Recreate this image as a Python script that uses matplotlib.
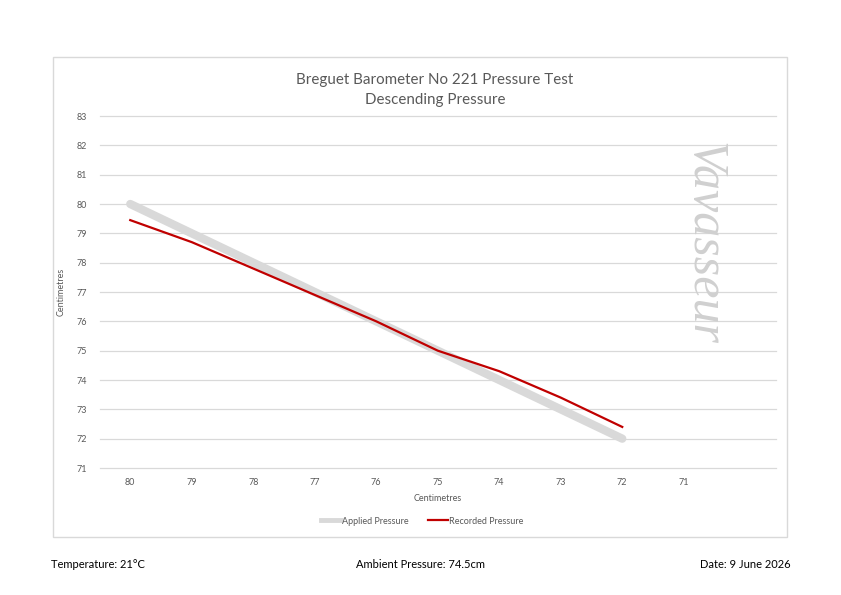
import numpy as np
import matplotlib.pyplot as plt
from matplotlib.patches import Rectangle
from matplotlib.lines import Line2D

plt.rcParams['font.family'] = ['Lato', 'DejaVu Sans']

# data
categories = ['80', '79', '78', '77', '76', '75', '74', '73', '72', '71']
applied = [80, 79, 78, 77, 76, 75, 74, 73, 72]
recorded = [79.45, 78.7, 77.8, 76.9, 76.0, 75.0, 74.3, 73.4, 72.4]

grey = '#d9d9d9'
red = '#c00000'
tick_col = '#595959'

fig = plt.figure(figsize=(8.41, 5.95), dpi=100)

# chart frame
fig.patches.append(Rectangle((53/841, 1-537/595), 734/841, 480/595,
                             transform=fig.transFigure, fill=False,
                             edgecolor=grey, linewidth=1))

ax = fig.add_axes([99.5/841, 1-468/595, 676.5/841, 352/595])
x = np.arange(len(categories))
ax.plot(x[:len(applied)], applied, color=grey, linewidth=6,
        solid_capstyle='round', label='Applied Pressure')
ax.plot(x[:len(recorded)], recorded, color=red, linewidth=1.6,
        label='Recorded Pressure')

ax.set_xlim(-0.5, 10.5)
ax.set_ylim(71, 83)
ax.set_yticks(range(71, 84))
ax.set_xticks(x)
ax.set_xticklabels(categories)
ax.tick_params(length=0, labelsize=6.5, labelcolor=tick_col, pad=7)
ax.tick_params(axis='y', pad=9)
ax.grid(True, axis='y', color=grey, linewidth=0.9)
for gl in ax.get_ygridlines():
    gl.set_clip_on(False)
for s in ax.spines.values():
    s.set_visible(False)
ax.set_axisbelow(True)

ax.set_xlabel('Centimetres', fontsize=6.5, color=tick_col, labelpad=5)
ax.set_ylabel('Centimetres', fontsize=6.5, color=tick_col, labelpad=8)

fig.text(435/841, 1-80/595, 'Breguet Barometer No 221 Pressure Test',
         ha='center', va='center', fontsize=10.9, color=tick_col)
fig.text(435/841, 1-100/595, 'Descending Pressure',
         ha='center', va='center', fontsize=10.9, color=tick_col)

# watermark
fig.text(704/841, 1-243/595, 'Vavasseur', rotation=-90, ha='center',
         va='center', fontsize=36, color='#d0d0d0',
         family='Liberation Serif', style='italic')

handles = [Line2D([], [], color=grey, linewidth=3.5),
           Line2D([], [], color=red, linewidth=1.6)]
fig.legend(handles, ['Applied Pressure', 'Recorded Pressure'],
           loc='center', bbox_to_anchor=(422/841, 1-521/595), ncol=2,
           frameon=False, fontsize=6.5, handlelength=2.2, handletextpad=0.1,
           columnspacing=2.2, labelcolor=tick_col)

fig.text(51/841, 1-565/595, 'Temperature: 21°C', ha='left', va='center',
         fontsize=8)
fig.text(356/841, 1-565/595, 'Ambient Pressure: 74.5cm', ha='left',
         va='center', fontsize=8)
fig.text(791/841, 1-565/595, 'Date: 9 June 2026', ha='right',
         va='center', fontsize=8)

fig.savefig('out.png', dpi=100)
